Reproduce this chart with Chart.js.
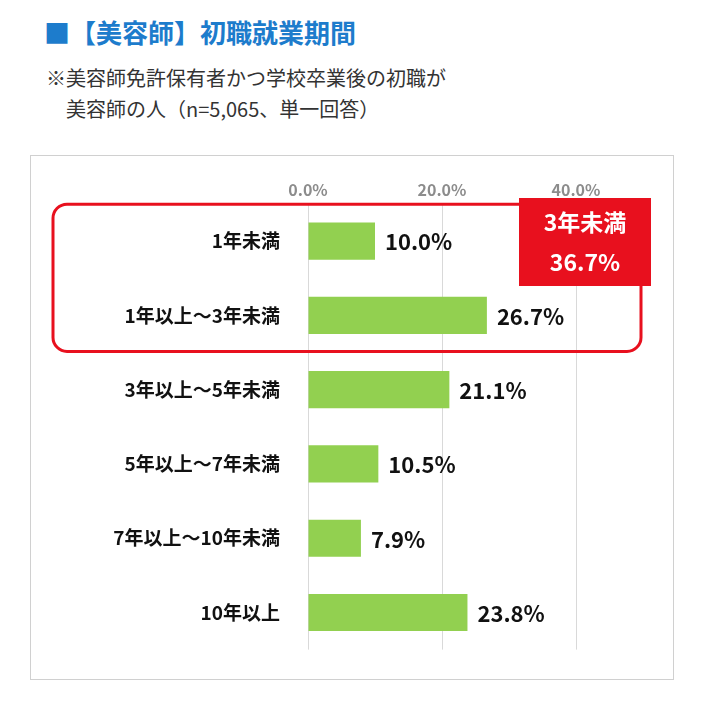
<!DOCTYPE html>
<html><head><meta charset="utf-8">
<script src="https://cdn.jsdelivr.net/npm/chart.js@4"></script>
<style>
body{margin:0;background:#fff;font-family:"Noto Sans CJK JP",sans-serif;}
#title{position:absolute;left:44px;top:13px;font-size:26px;font-weight:bold;color:#1d7ccc;}
#sub{position:absolute;left:46px;top:62px;font-size:20px;color:#333;line-height:31px;}
#box{position:absolute;left:30px;top:155px;width:644px;height:525px;border:1px solid #d0d0d0;box-sizing:border-box;}
</style></head><body>
<div id="title">■【美容師】初職就業期間</div>
<div id="sub">※美容師免許保有者かつ学校卒業後の初職が<br>&emsp;美容師の人（n=5,065、単一回答）</div>
<div id="box"><canvas id="c" width="644" height="525"></canvas></div>
<script>
const categories = ['1年未満', '1年以上～3年未満', '3年以上～5年未満', '5年以上～7年未満', '7年以上～10年未満', '10年以上'];
const values = [10.0, 26.7, 21.1, 10.5, 7.9, 23.8];
const tickValues = [0, 20, 40];
const calloutLines = ['3年未満', '36.7%'];
const font = '"Noto Sans CJK JP", sans-serif';

const overlay = {
  id: 'overlay',
  afterDatasetsDraw(chart) {
    const ctx = chart.ctx, y = chart.scales.y;
    const meta = chart.getDatasetMeta(0);
    ctx.save();
    ctx.font = 'bold 22px ' + font;
    ctx.fillStyle = '#111';
    ctx.textBaseline = 'middle';
    meta.data.forEach((b, i) => ctx.fillText(values[i].toFixed(1) + '%', b.x + 10, b.y + 1));
    const y0 = y.getPixelForValue(0) - 37, y1 = y.getPixelForValue(1) + 36;
    ctx.strokeStyle = '#e8101e';
    ctx.lineWidth = 3;
    ctx.beginPath();
    ctx.roundRect(22, y0, 588, y1 - y0, 14);
    ctx.stroke();
    ctx.fillStyle = '#e8101e';
    ctx.fillRect(488, 42, 132, 88);
    ctx.fillStyle = '#fff';
    ctx.textAlign = 'center';
    ctx.font = 'bold 23px ' + font;
    ctx.fillText(calloutLines[0], 554, 66);
    ctx.fillText(calloutLines[1], 554, 106);
    ctx.restore();
  }
};

new Chart(document.getElementById('c'), {
  type: 'bar',
  data: { labels: categories, datasets: [{ data: values, backgroundColor: '#92d050', barPercentage: 0.5, categoryPercentage: 1 }] },
  options: {
    indexAxis: 'y', responsive: false, animation: false,
    layout: { padding: { right: 32, bottom: 14, left: 0, top: 0 } },
    plugins: { legend: { display: false }, tooltip: { enabled: false } },
    scales: {
      x: {
        position: 'top', min: 0, max: 50,
        afterBuildTicks: s => { s.ticks = tickValues.map(v => ({ value: v })); },
        afterFit: s => { s.height = 48; },
        ticks: { callback: v => v.toFixed(1) + '%', color: '#8c8c8c', font: { family: font, size: 16, weight: 'bold' }, padding: 4 },
        grid: { color: '#d9d9d9', drawTicks: false },
        border: { display: false }
      },
      y: {
        afterFit: s => { s.width = 277; },
        ticks: { color: '#111', font: { family: font, size: 19, weight: 'bold' }, padding: 20 },
        grid: { display: false },
        border: { display: false }
      }
    }
  },
  plugins: [overlay]
});
</script>
</body></html>
